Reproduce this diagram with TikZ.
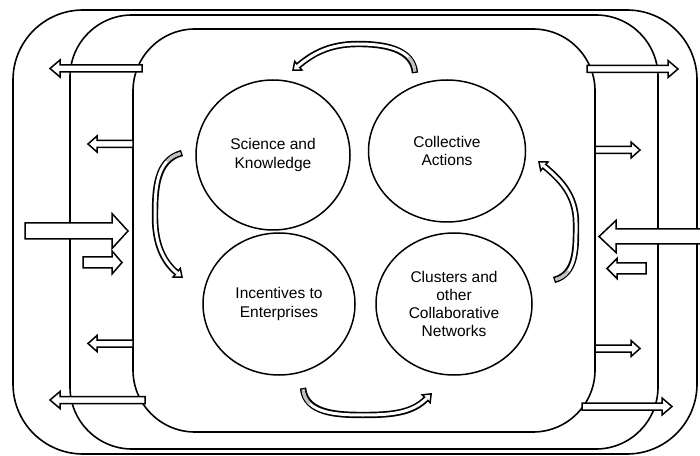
\documentclass[tikz,border=0pt]{standalone}
\usepackage{fontspec}
\setmainfont{Liberation Sans}
\usetikzlibrary{arrows.meta,shapes.geometric}
\newcommand\barr[6]{%
  \pgfmathsetmacro\bs{(#2>#1)?1:-1}%
  \pgfmathsetmacro\bh{#2-\bs*#6}%
  \draw[blk] (#1,#3-#4) -- (\bh,#3-#4) -- (\bh,#3-#5) -- (#2,#3) -- (\bh,#3+#5) -- (\bh,#3+#4) -- (#1,#3+#4) -- cycle;}
\newcommand\carr[1]{%
  \draw[line width=6.4pt, -{Triangle[length=9pt,width=14pt,fill=white,line width=1.5pt]}] #1;
  \draw[line width=3pt, white, shorten <=1.5pt, shorten >=7.5pt] #1;
  \draw[line width=3pt, gray!50, shorten <=1.5pt, dash pattern=on 16pt off 3000pt] #1;}
\begin{document}
\begin{tikzpicture}[x=1pt,y=1pt,
  frame/.style={draw=black, line width=1.6pt, rounded corners=62pt},
  blk/.style={draw=black, fill=white, line width=1.5pt, line join=miter},
  circ/.style={ellipse, draw=black, line width=1.5pt, inner sep=0pt, align=center,
     font=\fontsize{15.5}{18.3}\selectfont}]
\useasboundingbox (0,0) rectangle (700,455);
% frames
\draw[frame, rounded corners=70pt] (13,1) rectangle (697,445);
\draw[frame] (70,6) rectangle (658,440);
\draw[frame] (133,23) rectangle (595,426);
% circles
\node[circ, minimum width=154pt, minimum height=150pt] (sk) at (273,300) {Science and\\Knowledge};
\node[circ, minimum width=157pt, minimum height=142pt] (ca) at (447,304) {Collective\\Actions};
\node[circ, minimum width=152pt, minimum height=142pt] (ie) at (279,151) {Incentives to\\Enterprises};
\node[circ, minimum width=156pt, minimum height=142pt] (cl) at (454,151) {Clusters and\\other\\Collaborative\\Networks};
% curved arrows
\carr{(415,382) to[out=95,in=0] (358,411) to[out=180,in=40] (292,384)}
\carr{(303,67) to[out=-85,in=180] (363,40) to[out=0,in=-135] (432,62)}
\carr{(182,302) to[out=195,in=90] (155,238) to[out=-90,in=140] (183,177)}
\carr{(554,175) to[out=15,in=-90] (576,232) to[out=90,in=-40] (538,294)}
% straight block arrows, left
\barr{142}{50}{386.5}{3.5}{8.5}{10}
\barr{133}{88}{311}{3.5}{8}{9}
\barr{25}{128}{224}{8}{17.5}{16}
\barr{83}{122}{192.5}{5.5}{11.5}{10}
\barr{133}{88}{111.5}{3.5}{8}{9}
\barr{145}{50}{55}{3.5}{8.5}{10}
% right
\barr{587}{678}{386}{3.5}{8.5}{10}
\barr{595}{640}{305}{3.5}{8}{9}
\barr{706}{599}{218.5}{7.5}{16}{17}
\barr{646}{607}{186.5}{5.5}{10}{10}
\barr{595}{640}{106.5}{3.5}{8}{9}
\barr{582}{672}{48.5}{3.5}{8.5}{10}
\end{tikzpicture}
\end{document}
